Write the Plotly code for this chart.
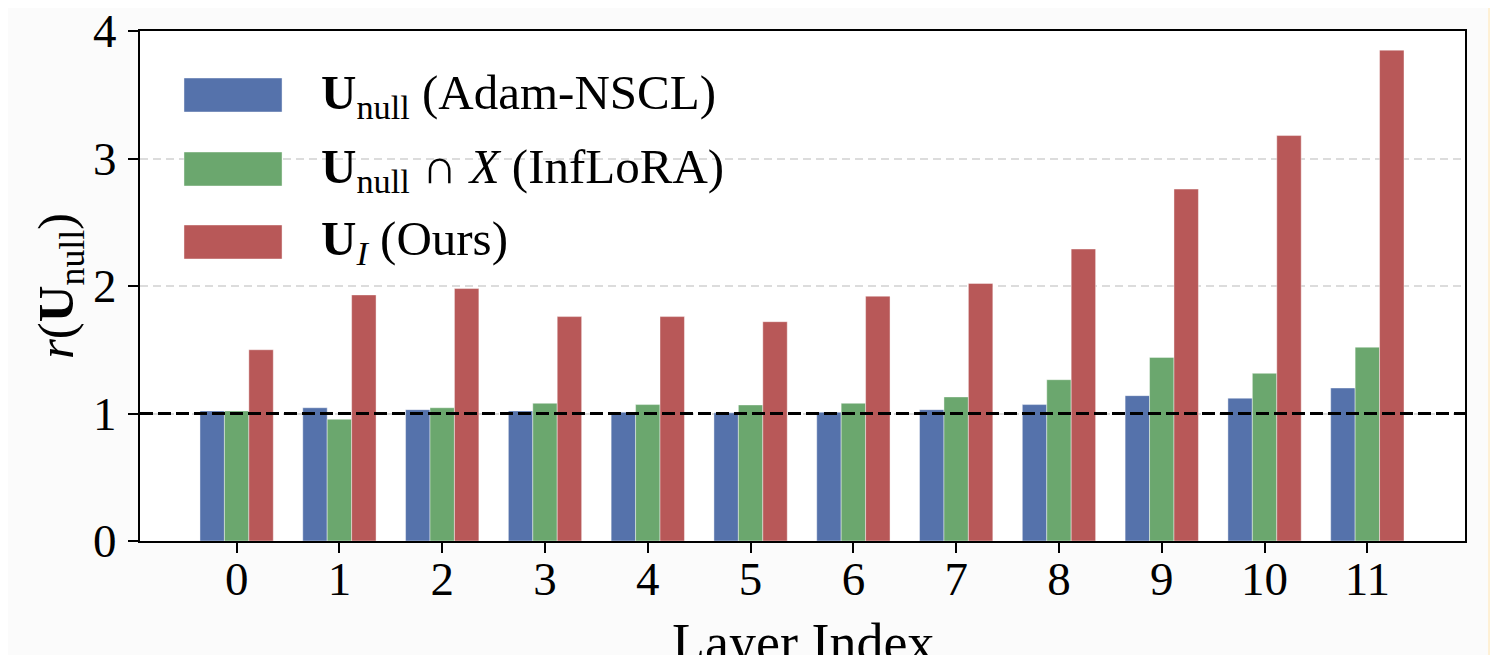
import plotly.graph_objects as go

# ---- data ----
layers = list(range(12))
tick_labels = [str(i) for i in layers]
series_names = [
    "<b>U</b><sub>null</sub> (Adam-NSCL)",
    "<b>U</b><sub>null</sub> ∩ <i>X</i> (InfLoRA)",
    "<b>U</b><sub><i>I</i></sub> (Ours)",
]
adam_nscl = [1.02, 1.045, 1.03, 1.02, 1.01, 1.005, 1.01, 1.03, 1.07, 1.14, 1.12, 1.20]
inflora = [1.02, 0.955, 1.045, 1.08, 1.07, 1.067, 1.08, 1.13, 1.265, 1.44, 1.315, 1.52]
ours = [1.50, 1.93, 1.98, 1.76, 1.76, 1.72, 1.92, 2.02, 2.29, 2.76, 3.18, 3.85]
series_values = [adam_nscl, inflora, ours]
colors = ["#5572AB", "#6BA76E", "#B85858"]
y_ticks = [0, 1, 2, 3, 4]
reference_level = 1.0

FONT = "Liberation Serif"

fig = go.Figure()
for name, vals, col in zip(series_names, series_values, colors):
    fig.add_trace(go.Bar(
        x=layers, y=vals, name=name,
        marker=dict(color=col, line=dict(color="rgba(255,255,255,0.7)", width=0.6)),
        showlegend=False,
    ))

# dashed reference line at y = 1
fig.add_hline(y=reference_level, line=dict(color="black", width=2.8, dash="13px,5px"), layer="above")

# manual legend with wide patches (paper coordinates)
legend_x0, legend_x1 = 0.0332, 0.1072
text_x = 0.135
centers = [0.8745, 0.7294, 0.5863]
half_h = 0.0333
for name, col, cy in zip(series_names, colors, centers):
    fig.add_shape(type="rect", xref="paper", yref="paper",
                  x0=legend_x0, x1=legend_x1, y0=cy - half_h, y1=cy + half_h,
                  fillcolor=col, line=dict(color="rgba(255,255,255,0.7)", width=0.6), layer="above")
    fig.add_annotation(text=name, xref="paper", yref="paper", x=text_x, y=cy,
                       xanchor="left", yanchor="middle", showarrow=False,
                       font=dict(family=FONT, size=49, color="black"))

# axis titles
fig.add_annotation(text="Layer Index", xref="paper", yref="paper", x=0.5, y=-0.2,
                   xanchor="center", yanchor="middle", showarrow=False,
                   font=dict(family=FONT, size=54, color="black"))
fig.add_annotation(text="<i>r</i>(<b>U</b><sub>null</sub>)", xref="paper", yref="paper",
                   x=-0.0603, y=0.5, xanchor="center", yanchor="middle", showarrow=False,
                   textangle=-90, font=dict(family=FONT, size=51, color="black"))

# cream strip at the right edge
fig.add_shape(type="rect", xref="paper", yref="paper", x0=1.0174, x1=1.05, y0=-0.3, y1=1.1,
              fillcolor="#FEF0D4", line=dict(width=0), layer="above")

fig.update_layout(
    width=1490, height=647,
    margin=dict(l=132, r=33, t=23, b=114),
    barmode="group", bargap=0.287, bargroupgap=0,
    paper_bgcolor="#FBFBFB", plot_bgcolor="#FFFFFF",
    font=dict(family=FONT, color="black"),
    showlegend=False,
)
fig.update_xaxes(
    range=[-0.94, 11.95], tickvals=layers, ticktext=tick_labels,
    showline=True, linecolor="black", linewidth=2, mirror=True,
    ticks="outside", ticklen=10, tickwidth=2, tickcolor="black",
    tickfont=dict(family=FONT, size=47, color="black"),
    ticklabelstandoff=-14, ticklabeloverflow="allow", automargin=False,
    showgrid=False, zeroline=False,
)
fig.update_yaxes(
    range=[0, 4], tickvals=y_ticks,
    showline=True, linecolor="black", linewidth=2, mirror=True,
    ticks="outside", ticklen=10, tickwidth=2, tickcolor="black",
    tickfont=dict(family=FONT, size=47, color="black"),
    ticklabelstandoff=2, ticklabeloverflow="allow", automargin=False,
    showgrid=True, gridcolor="#DCDCDC", gridwidth=1.5, griddash="8px,5px",
    zeroline=False,
)

fig.write_html("out.html")
